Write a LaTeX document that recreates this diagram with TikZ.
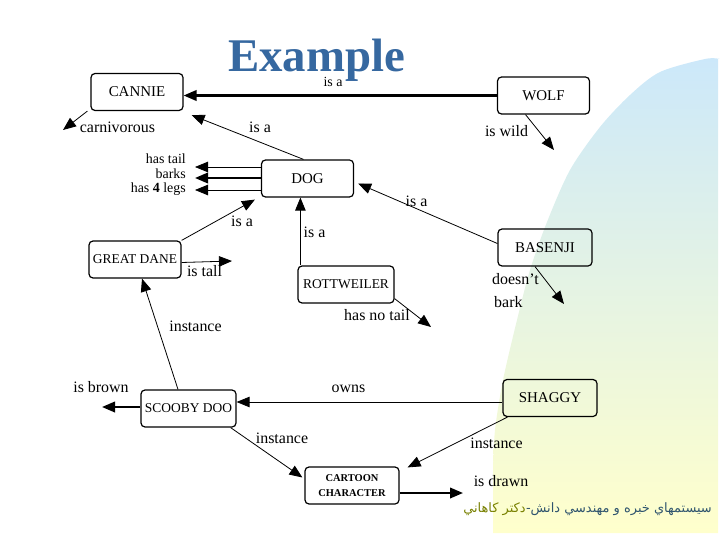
\documentclass[tikz,border=0pt]{standalone}
\usepackage{fontspec}
\setmainfont{Liberation Serif}
\newfontfamily\arabicfont[Script=Arabic]{DejaVu Sans}
\TeXXeTstate=1
\usetikzlibrary{arrows.meta}

\definecolor{titleblue}{RGB}{54,104,160}
\definecolor{skyblue}{RGB}{204,232,250}
\definecolor{paleyellow}{RGB}{255,255,204}
\definecolor{footslate}{RGB}{47,84,110}
\definecolor{footolive}{RGB}{120,128,0}

\begin{document}
\begin{tikzpicture}[
    x=1bp, y=-1bp,
    concept/.style={draw, rounded corners=4bp, line width=1.2bp,
        minimum width=92bp, minimum height=37bp, inner sep=1bp,
        font=\fontsize{15}{17}\selectfont},
    smallconcept/.style={concept, font=\fontsize{13.5}{16}\selectfont},
    rel/.style={inner sep=0pt, anchor=base, font=\fontsize{16}{18}\selectfont},
    trait/.style={inner sep=0pt, anchor=base east, font=\fontsize{14}{16}\selectfont},
    arr/.style={-{Triangle[length=13bp,width=10.5bp]}, line width=0.8bp},
    heavy/.style={arr, line width=2.2bp}
]
    \useasboundingbox (0,0) rectangle (720,540);

    % background sweep
    \shade[top color=skyblue, bottom color=paleyellow]
        plot[smooth] coordinates {(720,59) (705,59) (660,72) (630,95) (600,127)
            (570,170) (547,222) (530,270) (517,320) (503,380) (495,430) (493,470)}
        -- (493,533) -- (718,533) -- (718,59) -- cycle;

    \node[anchor=base west, inner sep=0pt, text depth=0pt, text=titleblue,
        font=\bfseries\fontsize{47}{50}\selectfont] (title) at (228,72) {Example};

    % concepts
    \node[concept] (cannie) at (137,92) {CANNIE};
    \node[concept] (wolf) at (543.5,95.5) {WOLF};
    \node[concept] (dog) at (307.5,178.5) {DOG};
    \node[concept, minimum width=94bp] (basenji) at (545,247.5) {BASENJI};
    \node[smallconcept] (greatdane) at (135,259.5) {GREAT DANE};
    \node[smallconcept, minimum width=96bp] (rottweiler) at (346,284.5) {ROTTWEILER};
    \node[smallconcept, minimum width=95bp] (scooby) at (188.5,408.5) {SCOOBY DOO};
    \node[concept, minimum width=94bp] (shaggy) at (550,398) {SHAGGY};
    \node[concept, minimum width=94bp, align=center,
        font=\bfseries\fontsize{10.5}{15}\selectfont] (cartoon) at (352,485.5) {CARTOON\\CHARACTER};

    % free ends
    \coordinate (carnTip) at (63,130);
    \coordinate (tailTip) at (195,167);
    \coordinate (barkTip) at (195,178);
    \coordinate (legTip) at (195,190);
    \coordinate (wildTip) at (554,150);
    \coordinate (tallTip) at (232,261);
    \coordinate (notailTip) at (431,327);
    \coordinate (nobarkTip) at (564,304);
    \coordinate (brownTip) at (102,407);
    \coordinate (drawnTip) at (463,493);
    \coordinate (rottTop) at ([xshift=3bp]rottweiler.north west);
    \coordinate (ownsStart) at ([yshift=-4bp]shaggy.west);

    % connectors
    \draw[heavy] (wolf.west) -- (cannie.east |- wolf.west);
    \draw[arr] ([xshift=-4bp]dog.north) -- ([shift={(8bp,-4bp)}]cannie.south east);
    \draw[arr] ([xshift=-3bp]cannie.south west) -- (carnTip);
    \draw[arr] (dog.west |- tailTip) -- (tailTip);
    \draw[heavy] (dog.west |- barkTip) -- (barkTip);
    \draw[arr] (dog.west |- legTip) -- (legTip);
    \draw[arr] ([xshift=-18bp]wolf.south) -- (wildTip);
    \draw[arr] (greatdane.north east) -- ([shift={(-6bp,-2bp)}]dog.south west);
    \draw[arr] (rottTop) -- (rottTop |- dog.south);
    \draw[arr] ([yshift=4bp]basenji.west) -- ([shift={(4bp,-5bp)}]dog.east);
    \draw[arr] ([yshift=-3bp]greatdane.east) -- (tallTip);
    \draw[arr] ([yshift=5bp]rottweiler.south east) -- (notailTip);
    \draw[arr] ([xshift=-10bp]basenji.south) -- (nobarkTip);
    \draw[arr] ([xshift=-10.5bp]scooby.north) -- ([xshift=7bp]greatdane.south);
    \draw[heavy] (scooby.west |- brownTip) -- (brownTip);
    \draw[arr] (ownsStart) -- (scooby.east |- ownsStart);
    \draw[arr] ([xshift=5bp]shaggy.south west) -- ([shift={(8bp,-1bp)}]cartoon.north east);
    \draw[arr] ([xshift=-6bp]scooby.south east) -- ([shift={(-2bp,8bp)}]cartoon.west);
    \draw[heavy] (cartoon.east |- drawnTip) -- (drawnTip);

    % relation labels
    \node[rel, font=\fontsize{14}{16}\selectfont] (isaWolf) at (333,87) {is a};
    \node[rel] (isaDog) at (260,133) {is a};
    \node[rel] (carnLbl) at (117.5,133) {carnivorous};
    \node[trait] (tailLbl) at (186,164) {has tail};
    \node[trait] (barkLbl) at (186,179) {barks};
    \node[trait] (legLbl) at (186,193) {has \textbf{4} legs};
    \node[rel] (wildLbl) at (506.5,137) {is wild};
    \node[rel] (isaDane) at (242,227) {is a};
    \node[rel] (isaRott) at (314.5,238) {is a};
    \node[rel] (isaBasenji) at (416.5,207) {is a};
    \node[rel] (tallLbl) at (204.5,277) {is tall};
    \node[rel] (notailLbl) at (377,320) {has no tail};
    \node[rel, anchor=base west] (doesntLbl) at (492,285) {doesn't};
    \node[rel, anchor=base west] (barkNotLbl) at (494,307) {bark};
    \node[rel] (instDane) at (195.5,331) {instance};
    \node[rel] (brownLbl) at (101,392) {is brown};
    \node[rel] (ownsLbl) at (348.5,392) {owns};
    \node[rel] (instScooby) at (282,443) {instance};
    \node[rel] (instShaggy) at (496.5,448) {instance};
    \node[rel] (drawnLbl) at (501,486) {is drawn};

    % footer
    \node[anchor=base east, inner sep=0pt, text=footslate,
        font=\arabicfont\fontsize{13}{15}\selectfont] (footCourse) at (712,512)
        {\beginR سيستمهاي خبره و مهندسي دانش\kern0pt-\endR};
    \node[anchor=base east, inner sep=0pt, text=footolive,
        font=\arabicfont\fontsize{13}{15}\selectfont] (footName) at (footCourse.base west)
        {\beginR دكتر كاهاني\endR};
\end{tikzpicture}
\end{document}
